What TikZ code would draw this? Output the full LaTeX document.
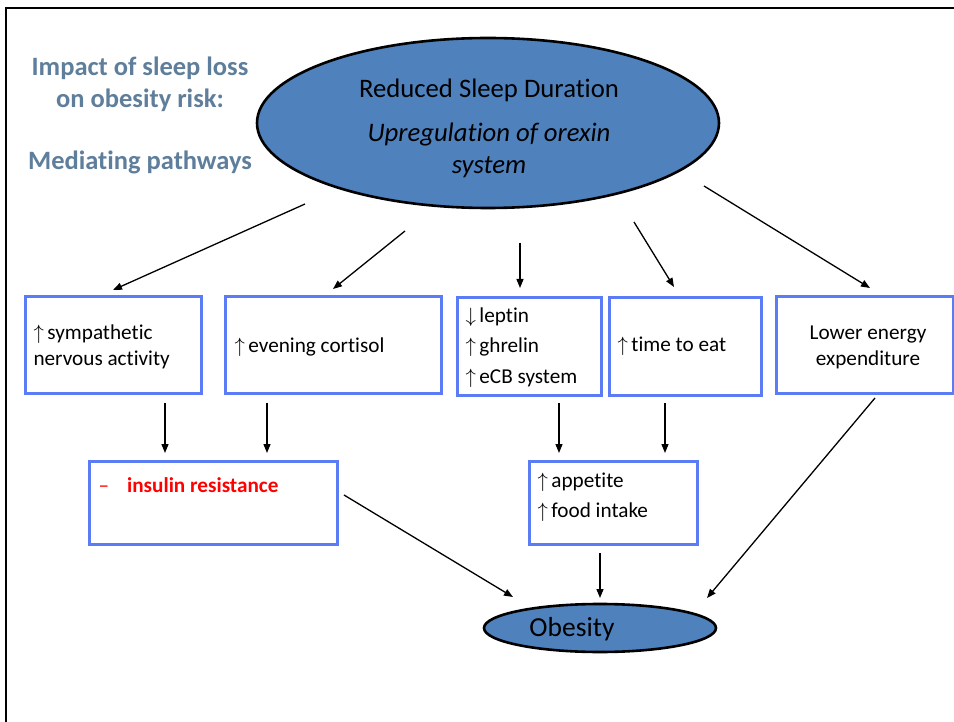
\documentclass[tikz,border=0pt]{standalone}
\usepackage{fontspec}
\setmainfont{Carlito}[Ligatures=CommonOff]
\usetikzlibrary{arrows.meta,shapes.geometric}
\definecolor{titleblue}{RGB}{94,126,155}
\definecolor{ellfill}{RGB}{79,129,189}
\definecolor{boxblue}{RGB}{92,124,245}
\definecolor{irred}{RGB}{255,0,0}
\newcommand{\up}{$\uparrow$}
\newcommand{\dn}{$\downarrow$}
\begin{document}
\begin{tikzpicture}[x=1pt,y=-1pt,
  pboxline/.style={draw=boxblue,line width=3pt},
  oval/.style={ellipse,draw=black,line width=2.6pt,fill=ellfill,inner sep=0pt},
  conn/.style={line width=1.3pt,-{Triangle[length=9pt,width=7pt]}},
  btxt/.style={font=\fontsize{21.2}{26}\selectfont,align=left},
  ttl/.style={font=\fontsize{26.5}{30}\selectfont\bfseries,text=titleblue}]
\useasboundingbox (0,0) rectangle (954,722);
% frame
\draw[line width=2.8pt] (954,8) -- (6,8) -- (6,722);
% title
\node[ttl] (t1) at (140,68) {Impact of sleep loss};
\node[ttl] (t2) at (140,100) {on obesity risk:};
\node[ttl] (t3) at (140,162) {Mediating pathways};
% top ellipse
\node[oval,minimum width=462pt,minimum height=170pt] (top) at (488,123) {};
\node[font=\fontsize{26.7}{30}\selectfont] (topa) at (489,90) {Reduced Sleep Duration};
\node[font=\fontsize{26.7}{30}\selectfont\itshape] (topb) at (489,135) {Upregulation of orexin};
\node[font=\fontsize{26.7}{30}\selectfont\itshape] (topc) at (489,167) {system};
% boxes
\draw[pboxline] (25,297) rectangle (201,393);
\node (b1) at (113,345) {};
\node[btxt,anchor=west] (b1t) at (30,347) {\up\,sympathetic\\nervous activity};
\draw[pboxline] (225,297) rectangle (441,393);
\node (b2) at (333,345) {};
\node[btxt,anchor=west] (b2t) at (231,347) {\up\,evening cortisol};
\draw[pboxline] (457,298) rectangle (601,395);
\node (b3) at (529,346) {};
\node[btxt,anchor=west] (b3a) at (462,317) {\dn\,leptin};
\node[btxt,anchor=west] (b3b) at (462,347) {\up\,ghrelin};
\node[btxt,anchor=west] (b3c) at (462,378) {\up\,eCB system};
\draw[pboxline] (609,298) rectangle (761,395);
\node (b4) at (685,346) {};
\node[btxt,anchor=west] (b4t) at (614,346) {\up\,time to eat};
\draw[pboxline] (776,297) rectangle (953,393);
\node (b5) at (865,345) {};
\node[btxt,align=center] (b5t) at (868,347) {Lower energy\\expenditure};
\draw[pboxline] (89,461) rectangle (337,544);
\node (b6) at (213,502) {};
\node[btxt,anchor=west,text=irred] (b6t) at (95,485) {\textendash\hspace{18pt}\textbf{insulin resistance}};
\draw[pboxline] (529,461) rectangle (697,544);
\node (b7) at (613,502) {};
\node[btxt,anchor=west] (b7a) at (534,482) {\up\,appetite};
\node[btxt,anchor=west] (b7b) at (534,512) {\up\,food intake};
% obesity
\node[oval,minimum width=232pt,minimum height=48pt] (ob) at (600,628) {};
\node[font=\fontsize{27.5}{30}\selectfont] (obt) at (572,629) {Obesity};
% connector end coordinates
\coordinate (s1) at (305,204); \coordinate (e1) at (113,290);
\coordinate (s2) at (405,231); \coordinate (e2) at (333,289);
\coordinate (s3) at (520,243); \coordinate (e3) at (520,288);
\coordinate (s4) at (634,222); \coordinate (e4) at (674,287);
\coordinate (s5) at (704,186); \coordinate (e5) at (870,288);
\coordinate (s6) at (165,403); \coordinate (e6) at (165,453);
\coordinate (s7) at (267,403); \coordinate (e7) at (267,453);
\coordinate (s8) at (559,403); \coordinate (e8) at (559,453);
\coordinate (s9) at (665,403); \coordinate (e9) at (665,453);
\coordinate (s10) at (344,495); \coordinate (e10) at (513,597);
\coordinate (s11) at (600,553); \coordinate (e11) at (600,598);
\coordinate (s12) at (875,398); \coordinate (e12) at (707,598);
\foreach \i in {1,...,12} {\draw[conn] (s\i) -- (e\i);}
\end{tikzpicture}
\end{document}
